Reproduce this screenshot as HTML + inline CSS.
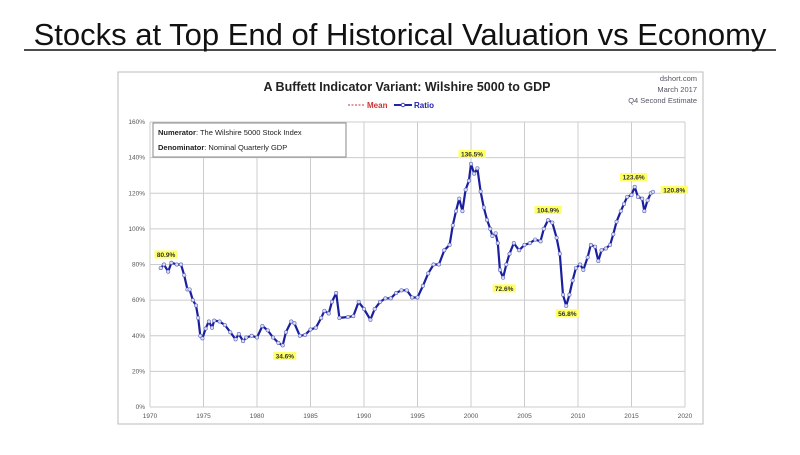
<!DOCTYPE html>
<html><head><meta charset="utf-8"><style>
body{margin:0;background:#fff;width:800px;height:450px;overflow:hidden;font-family:"Liberation Sans",sans-serif}
</style></head><body>
<svg width="800" height="450" xmlns="http://www.w3.org/2000/svg" font-family="Liberation Sans, sans-serif">
<rect width="800" height="450" fill="#fff"/>
<text x="400" y="45" font-size="31" text-anchor="middle" fill="#111" font-family="Liberation Sans, sans-serif">Stocks at Top End of Historical Valuation vs Economy</text>
<line x1="24" y1="50" x2="776" y2="50" stroke="#111" stroke-width="1.5"/>
<rect x="118" y="72" width="585" height="352" fill="#fff" stroke="#bbb" stroke-width="1"/>
<text x="407" y="91" font-size="12.5" font-weight="bold" text-anchor="middle" fill="#222">A Buffett Indicator Variant: Wilshire 5000 to GDP</text>
<line x1="348" y1="105" x2="365" y2="105" stroke="#c33" stroke-dasharray="2,1.5"/>
<text x="367" y="108" font-size="8" font-weight="bold" fill="#c33">Mean</text>
<line x1="394" y1="105" x2="412" y2="105" stroke="#22a" stroke-width="2"/>
<circle cx="403" cy="105" r="1.8" fill="#fff" stroke="#22a" stroke-width="0.8"/>
<text x="414" y="108" font-size="8" font-weight="bold" fill="#22a">Ratio</text>
<text x="697" y="81" font-size="7.5" text-anchor="end" fill="#556">dshort.com</text>
<text x="697" y="92" font-size="7.5" text-anchor="end" fill="#556">March 2017</text>
<text x="697" y="103" font-size="7.5" text-anchor="end" fill="#556">Q4 Second Estimate</text>
<g id="grid" stroke="#ccc" stroke-width="1"></g>
<g id="lab" font-size="6.5" fill="#555"></g>
<rect x="153" y="123" width="193" height="34" fill="#fff" stroke="#888"/>
<text x="158" y="135" font-size="7.5" fill="#222"><tspan font-weight="bold">Numerator</tspan>: The Wilshire 5000 Stock Index</text>
<text x="158" y="150" font-size="7.5" fill="#222"><tspan font-weight="bold">Denominator</tspan>: Nominal Quarterly GDP</text>
<g id="ser"></g>
<g id="ann" font-size="6.5" font-weight="bold" fill="#333"></g>
</svg>
<script>
var NS="http://www.w3.org/2000/svg";
function X(y){return 150+(y-1970)*(685-150)/50;}
function Y(p){return 407-p*285/160;}
function el(t,a,p,txt){var e=document.createElementNS(NS,t);for(var k in a)e.setAttribute(k,a[k]);if(txt)e.textContent=txt;document.getElementById(p).appendChild(e);return e;}
for(var yr=1970;yr<=2020;yr+=5){el('line',{x1:X(yr),x2:X(yr),y1:Y(160),y2:Y(0)},'grid');el('text',{x:X(yr),y:418,'text-anchor':'middle'},'lab',yr);}
for(var p=0;p<=160;p+=20){el('line',{x1:X(1970),x2:X(2020),y1:Y(p),y2:Y(p)},'grid');el('text',{x:145,y:Y(p)+2,'text-anchor':'end'},'lab',p+'%');}
var d=[[1971,78],[1971.3,80],[1971.7,76],[1972,81],[1972.5,80],[1972.9,80],[1973.2,74],[1973.5,66],[1973.7,66],[1974,60],[1974.3,57],[1974.5,50],[1974.7,40],[1974.9,38.5],[1975.2,44],[1975.5,48],[1975.8,44.5],[1976,48.5],[1976.5,48],[1977,46],[1977.5,42],[1978,38],[1978.3,41],[1978.7,37],[1979,39],[1979.5,40],[1980,39],[1980.5,45.5],[1981,43],[1981.5,39],[1982,36],[1982.4,34.6],[1982.7,42],[1983.2,48],[1983.5,47],[1984,40],[1984.5,40.5],[1985,43.5],[1985.5,44.5],[1986,50],[1986.3,54],[1986.7,52.5],[1987,59],[1987.4,64],[1987.7,50],[1988.5,50.5],[1989,51],[1989.5,59],[1990,55],[1990.6,49],[1991,55],[1991.5,59],[1992,61],[1992.5,61],[1993,64],[1993.5,65.5],[1994,65.5],[1994.5,61.5],[1995,61.5],[1995.5,68],[1996,75],[1996.5,80],[1997,80],[1997.5,88],[1998,91],[1998.3,102],[1998.6,110],[1998.9,117],[1999.2,110],[1999.5,122],[1999.8,127],[2000,136.5],[2000.3,131],[2000.6,134],[2000.9,121],[2001.2,112],[2001.5,105],[2001.8,100],[2002,96],[2002.3,97.5],[2002.5,92],[2002.7,77],[2003,72.6],[2003.3,80],[2003.6,86],[2004,92],[2004.5,88],[2005,91],[2005.5,92],[2006,94],[2006.5,93],[2006.8,100],[2007.2,104.9],[2007.6,103.5],[2008,95],[2008.3,86],[2008.6,63],[2008.9,56.8],[2009.2,63],[2009.5,71],[2009.8,78],[2010.2,80],[2010.5,77],[2010.9,84],[2011.2,91],[2011.6,90],[2011.9,82],[2012.2,88],[2012.6,89],[2013,91],[2013.3,97],[2013.6,104],[2014,110],[2014.3,114],[2014.6,118],[2015,119],[2015.3,123.6],[2015.6,118],[2016,117],[2016.2,110],[2016.5,116],[2016.8,120],[2017,120.8]];
var pts=d.map(function(a){return X(a[0]).toFixed(1)+','+Y(a[1]).toFixed(1)}).join(' ');
el('polyline',{points:pts,fill:'none',stroke:'#1a1f9e','stroke-width':2.2,'stroke-linejoin':'round'},'ser');
d.forEach(function(a){el('circle',{cx:X(a[0]),cy:Y(a[1]),r:1.7,fill:'#dde',stroke:'#5560c0','stroke-width':0.6},'ser');});
var an=[[1971.5,84.5,'80.9%'],[1982.6,27.5,'34.6%'],[2000.1,141,'136.5%'],[2003.1,65.5,'72.6%'],[2007.2,109.5,'104.9%'],[2009,51.5,'56.8%'],[2015.2,128,'123.6%'],[2019,120.8,'120.8%']];
an.forEach(function(a){var w=a[2].length*4.2+2;el('rect',{x:X(a[0])-w/2,y:Y(a[1])-6,width:w,height:8,fill:'#ffff66'},'ann');el('text',{x:X(a[0]),y:Y(a[1])+0.5,'text-anchor':'middle'},'ann',a[2]);});
</script>
</body></html>
